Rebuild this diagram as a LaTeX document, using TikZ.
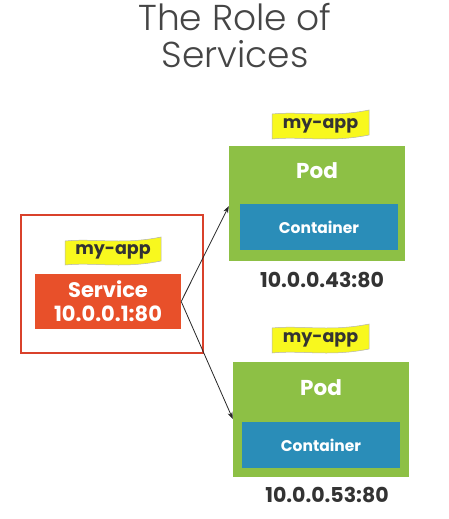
\documentclass[tikz,border=0pt]{standalone}
\usepackage{fontspec}
\setmainfont{Poppins}
\newfontfamily\titlefont{Poppins Light}
\usetikzlibrary{calc,arrows.meta}
\definecolor{svcred}{HTML}{E8502A}
\definecolor{boxred}{HTML}{D9412B}
\definecolor{podgreen}{HTML}{8DC045}
\definecolor{ctrblue}{HTML}{2A8DB8}
\definecolor{flagyellow}{HTML}{F8F81E}
\definecolor{txtgray}{HTML}{333333}
\definecolor{titlegray}{HTML}{454545}
\tikzset{
  podbox/.style={fill=podgreen,draw=none,minimum width=176pt,minimum height=115pt,inner sep=0},
  ctrbox/.style={fill=ctrblue,draw=none,minimum width=158pt,minimum height=46pt,inner sep=0,
     text=white,font=\fontsize{15.5}{15.5}\selectfont\bfseries},
  podtext/.style={text=white,font=\fontsize{21.5}{21.5}\selectfont\bfseries,inner sep=0},
  iplabel/.style={text=txtgray,font=\fontsize{20.5}{20.5}\selectfont\bfseries,inner sep=0},
  flagtext/.style={text=txtgray,font=\fontsize{17.5}{17.5}\selectfont\bfseries,inner sep=0},
  flagshape/.style={fill=flagyellow,draw=gray!60,line width=0.5pt},
  conn/.style={draw=black!85,line width=0.8pt,-{Stealth[length=7pt,width=5pt]}},
}
\newcommand{\myflag}[5]{%
  \path[flagshape] (#1,#2+4) .. controls (#1+0.3*#3,#2+1) and (#1+0.6*#3,#2+8) .. (#1+#3,#2)
     -- (#1+#3,#2+#4-4)
     .. controls (#1+0.6*#3,#2+#4+4) and (#1+0.3*#3,#2+#4-3) .. (#1,#2+#4) -- cycle;
  \node[flagtext] (#5) at (#1+0.5*#3,#2+0.5*#4+1) {my-app};
}
\begin{document}
\begin{tikzpicture}[x=1pt,y=-1pt]
\useasboundingbox (0,0) rectangle (449,519);
% title
\node[anchor=base,inner sep=0,text=titlegray,font=\titlefont\fontsize{36}{36}\selectfont] (t1) at (235,31) {The Role of};
\node[anchor=base,inner sep=0,text=titlegray,font=\titlefont\fontsize{36}{36}\selectfont] (t2) at (235,67) {Services};
% service
\node[draw=boxred,line width=2pt,minimum width=182pt,minimum height=138pt,inner sep=0] (outer) at (112,284) {};
\node[fill=svcred,minimum width=146pt,minimum height=55pt,inner sep=0,text=white,
      font=\fontsize{21}{24}\selectfont\bfseries,align=center] (svc) at (108,301.5) {Service\\10.0.0.1:80};
\myflag{65}{237}{96}{28}{flag0}
% pod 1
\node[podbox] (pod1) at (317,203.5) {};
\node[podtext] (pod1t) at (317,171) {Pod};
\node[ctrbox] (ctr1) at (319,227) {Container};
\node[iplabel] (ip1) at (322,280) {10.0.0.43:80};
\myflag{272}{110}{97}{29}{flag1}
% pod 2
\node[podbox] (pod2) at (321,419.5) {};
\node[podtext] (pod2t) at (321,388) {Pod};
\node[ctrbox] (ctr2) at (321,445) {Container};
\node[iplabel] (ip2) at (327,495) {10.0.0.53:80};
\myflag{272}{324}{97}{29}{flag2}
% connectors
\draw[conn] (svc.east) -- ($(pod1.south west)!0.478!(pod1.north west)$);
\draw[conn] (svc.east) -- ($(pod2.south west)!0.504!(pod2.north west)$);
\end{tikzpicture}
\end{document}
